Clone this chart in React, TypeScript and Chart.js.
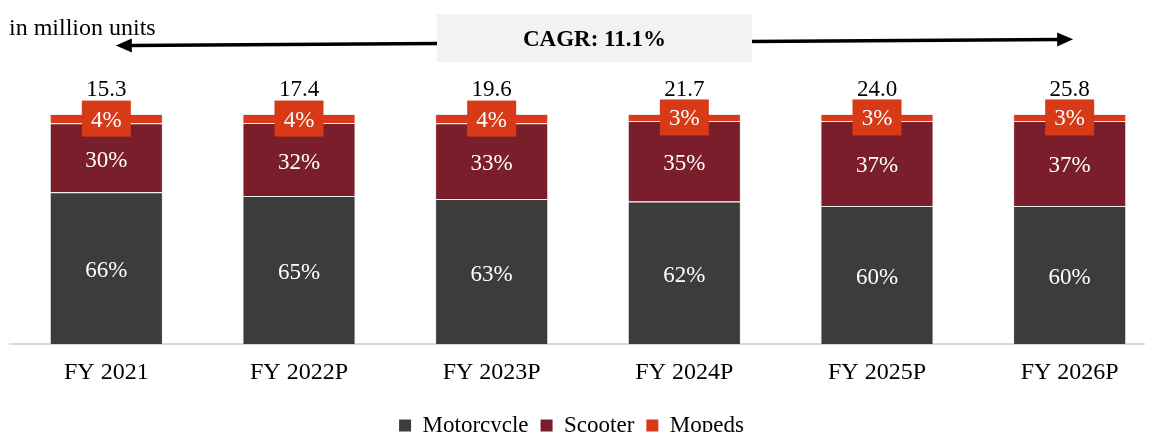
import React, { useEffect, useRef } from "react";
import { Chart, registerables } from "chart.js";

Chart.register(...registerables);

const categories = ["FY 2021", "FY 2022P", "FY 2023P", "FY 2024P", "FY 2025P", "FY 2026P"];
const motorcycleShare = [66, 65, 63, 62, 60, 60];
const scooterShare = [30, 32, 33, 35, 37, 37];
const mopedsShare = [4, 4, 4, 3, 3, 3];
const totalUnits = [15.3, 17.4, 19.6, 21.7, 24.0, 25.8];
const seriesNames = ["Motorcycle", "Scooter", "Mopeds"];
const cagrText = "CAGR: 11.1%";
const unitText = "in million units";

const SERIF = '"Liberation Serif", "Times New Roman", serif';
const COLORS = ["#3c3c3c", "#7a1e2b", "#d9391a"];

// canvas origin on the page (x, y)
const CANVAS_X = -23;
const CANVAS_Y = 8;
const px = (x: number) => x - CANVAS_X;
const py = (y: number) => y - CANVAS_Y;

const shares = [motorcycleShare, scooterShare, mopedsShare];
const sums = categories.map((_, i) => shares.reduce((s, arr) => s + arr[i], 0));
const normalized = (arr: number[]) => arr.map((v, i) => (v * 100) / sums[i]);

const overlayPlugin = {
  id: "overlay",
  afterDatasetsDraw(chart: any) {
    const ctx = chart.ctx as CanvasRenderingContext2D;
    ctx.save();
    ctx.textAlign = "center";
    ctx.textBaseline = "middle";

    // segment labels
    chart.data.datasets.forEach((_: any, di: number) => {
      const meta = chart.getDatasetMeta(di);
      meta.data.forEach((bar: any, i: number) => {
        const { x, y, base } = bar.getProps(["x", "y", "base"], true);
        const cy = (y + base) / 2;
        if (di === 2) {
          ctx.fillStyle = "#d83a18";
          ctx.fillRect(x - 24.5, cy - 18, 49, 36);
        }
        ctx.fillStyle = "#ffffff";
        ctx.font = `23px ${SERIF}`;
        ctx.fillText(`${shares[di][i]}%`, x, cy + (di === 2 ? 2 : 3));
      });
    });

    // totals above bars
    const topMeta = chart.getDatasetMeta(2);
    ctx.fillStyle = "#000000";
    ctx.font = `23px ${SERIF}`;
    topMeta.data.forEach((bar: any, i: number) => {
      ctx.fillText(totalUnits[i].toFixed(1), bar.x, bar.y - 24.5);
    });

    // unit text
    ctx.textAlign = "left";
    ctx.textBaseline = "alphabetic";
    ctx.font = `24px ${SERIF}`;
    ctx.fillText(unitText, px(9), py(35));

    // CAGR arrow
    const first = topMeta.data[0];
    const last = topMeta.data[topMeta.data.length - 1];
    const x1 = first.x + 9.5;
    const y1 = py(45.5);
    const x2 = last.x + 3.5;
    const y2 = py(39.3);
    const ang = Math.atan2(y2 - y1, x2 - x1);
    const head = 16;
    const hw = 7;
    ctx.strokeStyle = "#000";
    ctx.fillStyle = "#000";
    ctx.lineWidth = 3.5;
    ctx.beginPath();
    ctx.moveTo(x1 + head * Math.cos(ang) * 0.8, y1 + head * Math.sin(ang) * 0.8);
    ctx.lineTo(x2 - head * Math.cos(ang) * 0.8, y2 - head * Math.sin(ang) * 0.8);
    ctx.stroke();
    const drawHead = (tx: number, ty: number, a: number) => {
      ctx.beginPath();
      ctx.moveTo(tx, ty);
      ctx.lineTo(tx - head * Math.cos(a) - hw * Math.sin(a), ty - head * Math.sin(a) + hw * Math.cos(a));
      ctx.lineTo(tx - head * Math.cos(a) + hw * Math.sin(a), ty - head * Math.sin(a) - hw * Math.cos(a));
      ctx.closePath();
      ctx.fill();
    };
    drawHead(x2, y2, ang);
    drawHead(x1, y1, ang + Math.PI);

    // CAGR box
    ctx.fillStyle = "#f2f2f2";
    ctx.fillRect(px(437), py(14), 315, 48);
    ctx.fillStyle = "#000";
    ctx.font = `bold 23px ${SERIF}`;
    ctx.textAlign = "center";
    ctx.textBaseline = "middle";
    ctx.fillText(cagrText, px(594.5), py(40));

    ctx.restore();
  },
};

export default function App() {
  const ref = useRef<HTMLCanvasElement | null>(null);

  useEffect(() => {
    if (!ref.current) return;
    const chart = new Chart(ref.current, {
      type: "bar",
      data: {
        labels: categories,
        datasets: shares.map((arr, di) => ({
          label: seriesNames[di],
          data: normalized(arr),
          backgroundColor: COLORS[di],
          borderColor: "rgba(225,225,225,0.6)",
          borderWidth: 1,
          categoryPercentage: 1,
          barPercentage: 0.587,
        })),
      },
      options: {
        responsive: false,
        animation: false,
        layout: { padding: { top: 106, left: 0, right: 2, bottom: 0 } },
        plugins: {
          tooltip: { enabled: false },
          legend: {
            position: "bottom",
            labels: {
              font: { family: SERIF, size: 23 },
              color: "#000",
              boxWidth: 12,
              boxHeight: 12,
              padding: 12,
              generateLabels: (c: any) =>
                (Chart.defaults.plugins.legend.labels.generateLabels as any)(c).map((l: any) => ({
                  ...l,
                  lineWidth: 0,
                  strokeStyle: "rgba(0,0,0,0)",
                })),
            },
          },
        },
        scales: {
          x: {
            stacked: true,
            grid: { display: false, drawTicks: false },
            border: { display: true, color: "#d9d9d9", width: 2 },
            ticks: { font: { family: SERIF, size: 24 }, color: "#000", padding: 14.6 },
          },
          y: {
            stacked: true,
            display: true,
            position: "left",
            min: 0,
            max: 100,
            grid: { display: false, drawTicks: false },
            border: { display: false },
            ticks: { display: false },
            afterFit: (s: any) => {
              s.width = 33;
            },
          },
        },
      },
      plugins: [overlayPlugin],
    });
    return () => chart.destroy();
  }, []);

  return (
    <div style={{ width: 1145, height: 424, overflow: "hidden" }}>
      <canvas
        ref={ref}
        width={1191}
        height={439}
        style={{ display: "block", width: 1191, height: 439, marginLeft: -31 }}
      />
    </div>
  );
}
